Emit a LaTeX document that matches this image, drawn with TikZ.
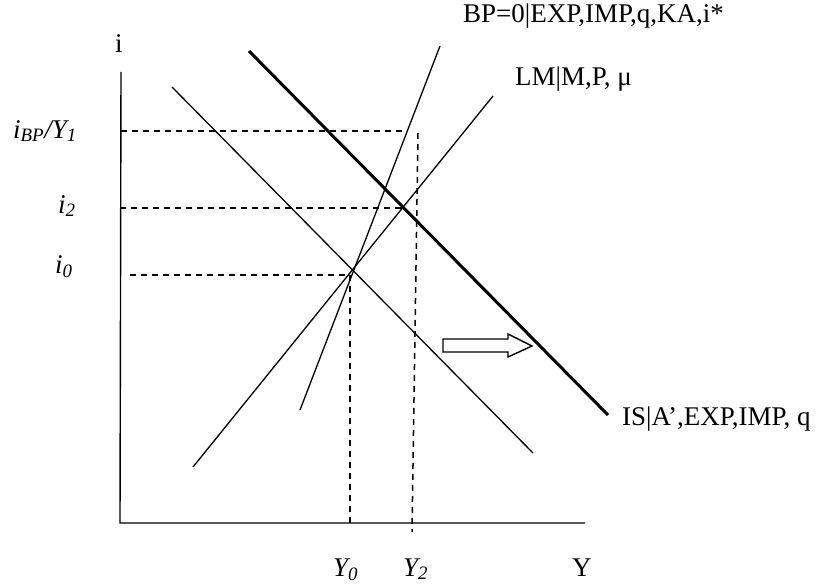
\documentclass[tikz,border=0pt]{standalone}
\usepackage{fontspec}
\setmainfont{Liberation Serif}
\usetikzlibrary{calc}

\tikzset{
  curve/.style={line width=1.3pt},
  shifted/.style={line width=3pt},
  guide/.style={line width=1.5pt, dash pattern=on 6pt off 5pt},
  lbl/.style={font=\fontsize{27}{30}\selectfont, inner sep=0pt, anchor=base west},
}

\begin{document}
\begin{tikzpicture}[x=1pt,y=-1pt]
\useasboundingbox (0,0) rectangle (833,586);
% axes
\coordinate (top) at (121,72);
\coordinate (O) at (120,523);
\coordinate (right) at (585,523);
\draw[line width=1.4pt] (top) -- (O) -- (right);
\node[lbl] (ilab) at (115,53) {i};
\node[lbl] (ylab) at (572,576) {Y};
% equilibria
\coordinate (E0) at (350,275);
\coordinate (E2) at (403,208);
\coordinate (EBP) at (407,131);
% curves
\draw[curve] (172,87) -- (533,453);
\draw[shifted] (249,51) -- (608,415);
\draw[curve] (193,467) -- (493,96);
\draw[curve] (300,410) -- (440,46);
% guides
\draw[guide] (121,131) -- (EBP);
\draw[guide] (418,133) -- (412,532);
\draw[guide] (120,208) -- (E2);
\draw[guide] (130,275) -- (E0);
\draw[guide] (E0) -- (350,527);
% shift arrow
\draw[line width=1.4pt, fill=white] (443,339) -- (508,339) -- (508,334) -- (532,346)
  -- (508,357) -- (508,352) -- (443,352) -- cycle;
% labels
\node[lbl] (bplab) at (463,23) {BP=0|EXP,IMP,q,KA,i*};
\node[lbl] (lmlab) at (515,85) {LM|M,P, μ};
\node[lbl] (islab) at (622,425) {IS|A’,EXP,IMP, q};
\node[lbl] (ibp) at (13,138) {\itshape i\textsubscript{BP}/Y\textsubscript{1}};
\node[lbl] (itwo) at (58,213) {\itshape i\textsubscript{2}};
\node[lbl] (izero) at (55,273) {\itshape i\textsubscript{0}};
\node[lbl] (yzero) at (333,576) {\itshape Y\textsubscript{0}};
\node[lbl] (ytwo) at (403,576) {\itshape Y\textsubscript{2}};
\end{tikzpicture}
\end{document}
